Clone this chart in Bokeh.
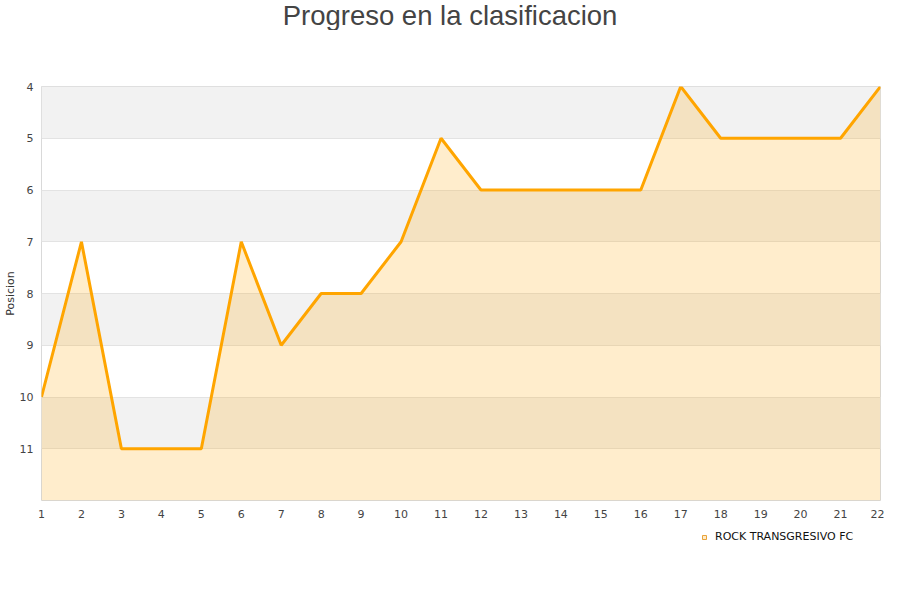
from bokeh.plotting import figure
from bokeh.layouts import column
from bokeh.models import Range1d, FixedTicker, Legend, LegendItem, ColumnDataSource, Label
from bokeh.embed import file_html
from bokeh.resources import INLINE

jornadas = list(range(1, 23))
posicion = [10, 7, 11, 11, 11, 7, 9, 8, 8, 7, 5, 6, 6, 6, 6, 6, 4, 5, 5, 5, 5, 4]
y_ticks = [4, 5, 6, 7, 8, 9, 10, 11]
equipo = "ROCK TRANSGRESIVO FC"
titulo = "Progreso en la clasificacion"
fondo = 12

W = 884


def blank(h):
    f = figure(width=W, height=h, output_backend="svg", toolbar_location=None,
               x_range=Range1d(0, 1), y_range=Range1d(0, 1),
               x_axis_location=None, y_axis_location=None)
    f.min_border_left = f.min_border_right = 0
    f.min_border_top = f.min_border_bottom = 0
    f.outline_line_color = None
    f.background_fill_color = "white"
    f.border_fill_color = "white"
    f.xgrid.grid_line_color = None
    f.ygrid.grid_line_color = None
    return f


# title strip
top = blank(30)
top.add_layout(Label(x=0.4869, y=0.5, text=titulo, text_align="center",
                     text_baseline="middle", text_font="Liberation Sans",
                     text_font_size="27.5px", text_color="#444444"))

# main chart
p = figure(width=W, height=490, output_backend="svg", toolbar_location=None,
           x_range=Range1d(jornadas[0], jornadas[-1]), y_range=Range1d(fondo, 4))
p.min_border_left = 0
p.min_border_right = 4
p.min_border_top = 56
p.min_border_bottom = 20
p.background_fill_color = "white"
p.border_fill_color = "white"
p.outline_line_color = "#d9d9d9"
p.outline_line_width = 1

p.xaxis.ticker = FixedTicker(ticks=jornadas)
p.yaxis.ticker = FixedTicker(ticks=y_ticks)
for ax in (p.xaxis[0], p.yaxis[0]):
    ax.axis_line_color = None
    ax.major_tick_line_color = None
    ax.minor_tick_line_color = None
    ax.major_label_text_font = "DejaVu Sans"
    ax.major_label_text_font_size = "11px"
    ax.major_label_text_color = "#444444"
p.xaxis.major_label_standoff = 3
p.yaxis.major_label_standoff = 2
p.yaxis.axis_label = "Posicion"
p.yaxis.axis_label_text_font = "DejaVu Sans"
p.yaxis.axis_label_text_font_size = "11px"
p.yaxis.axis_label_text_font_style = "normal"
p.yaxis.axis_label_text_color = "#333333"
p.yaxis.axis_label_standoff = 0

p.xgrid.grid_line_color = None
p.ygrid.grid_line_color = "#e3e3e3"

band_centers = [t + 0.5 for t in y_ticks[::2]]
p.hbar(y=band_centers, height=1, left=jornadas[0], right=jornadas[-1],
       fill_color="#f2f2f2", line_color=None, level="underlay")

src = ColumnDataSource(dict(x=jornadas, y=posicion, y2=[fondo] * len(jornadas)))
p.varea(x="x", y1="y", y2="y2", source=src, fill_color="#FFA500", fill_alpha=0.2)
p.line(x="x", y="y", source=src, line_color="#FFA500", line_width=3)

# legend strip
leg = blank(64)
dummy = leg.scatter(x=[0.5], y=[0.5], marker="square", size=10,
                    fill_color="#FFEBC8", line_color="#E8A33A", line_width=1,
                    visible=False)
legend = Legend(items=[LegendItem(label=equipo, renderers=[dummy])],
                location=(658, 41), orientation="horizontal")
legend.border_line_color = None
legend.background_fill_alpha = 0
legend.inactive_fill_alpha = 0
legend.label_text_font = "DejaVu Sans"
legend.label_text_font_size = "11px"
legend.label_text_color = "#111111"
legend.glyph_width = 10
legend.glyph_height = 10
legend.padding = 4
legend.margin = 0
legend.spacing = 0
legend.label_standoff = 6
leg.add_layout(legend)

layout = column(top, p, leg, spacing=0)
open("out.html", "w").write(file_html(layout, INLINE))
